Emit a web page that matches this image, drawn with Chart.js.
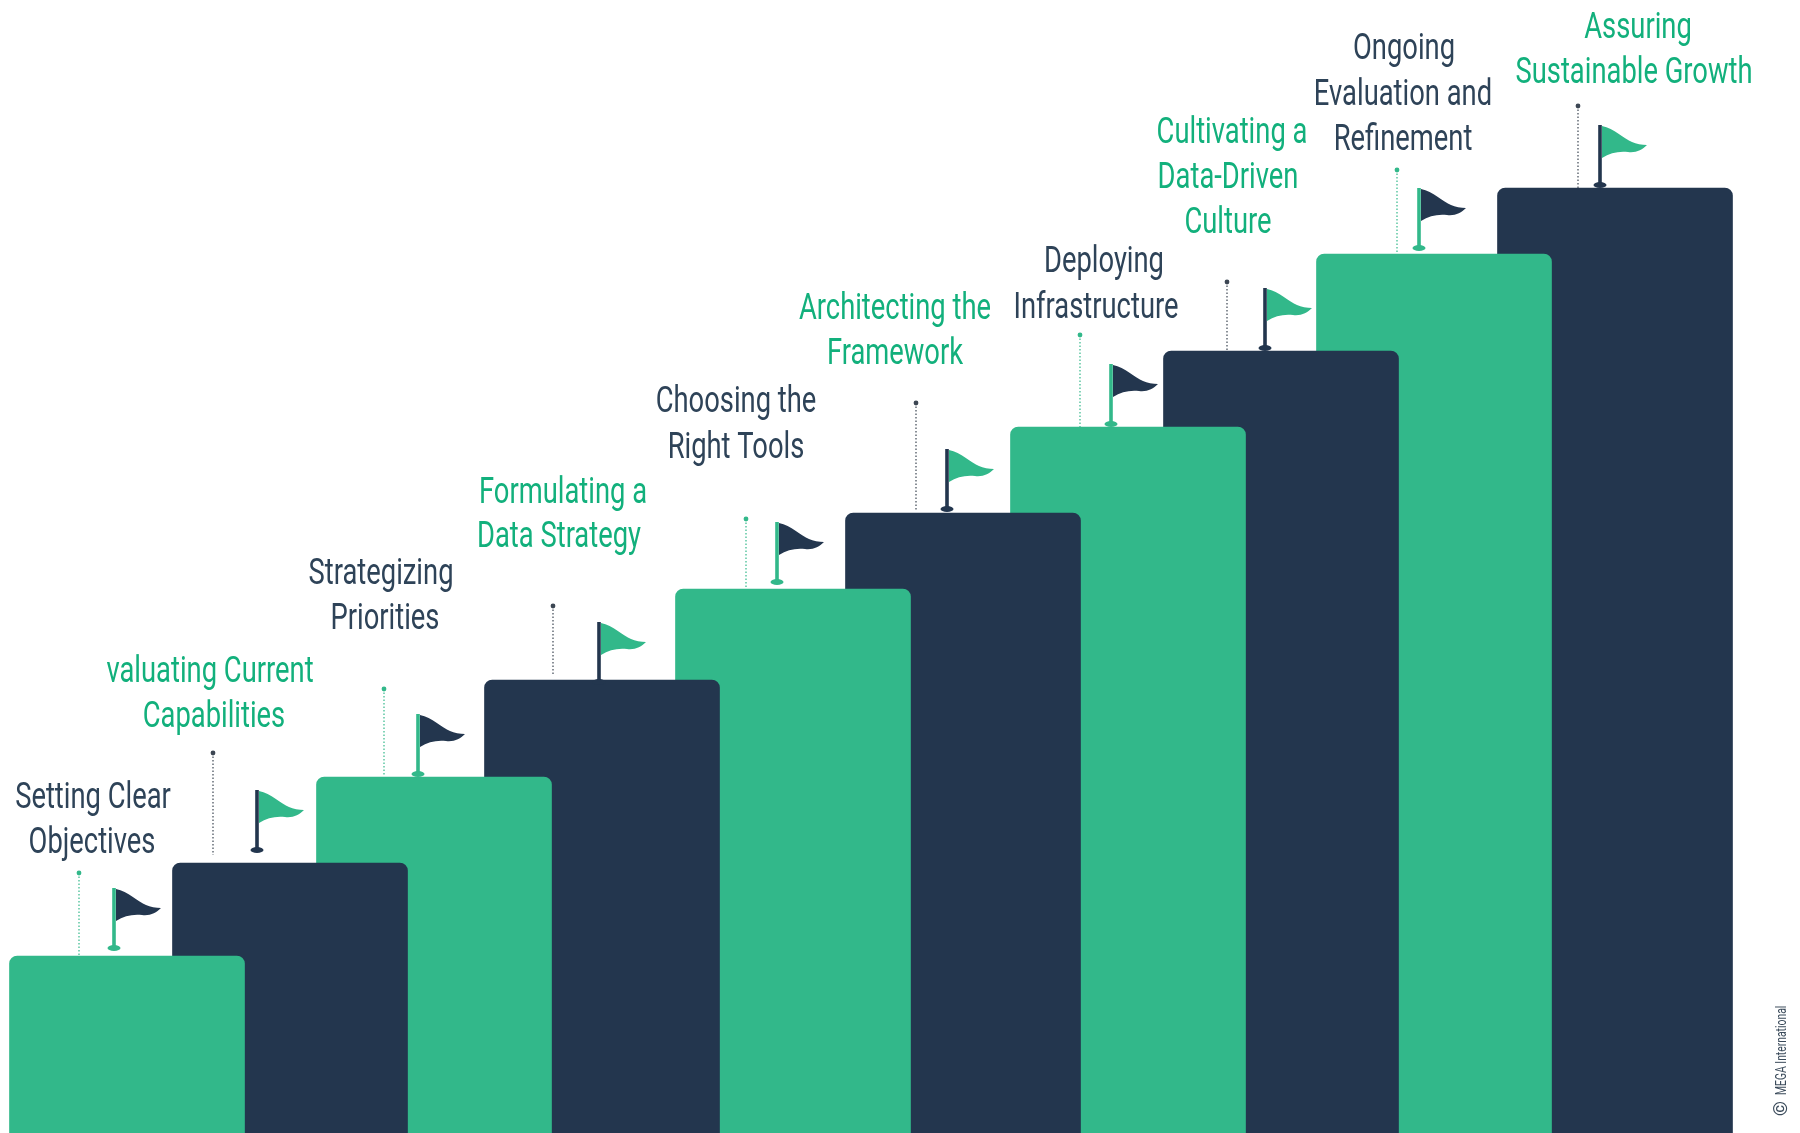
<!DOCTYPE html>
<html>
<head>
<meta charset="utf-8">
<style>html,body{margin:0;padding:0;background:#fff}canvas{display:block}</style>
<script src="https://cdn.jsdelivr.net/npm/chart.js@4"></script>
</head>
<body>
<canvas id="c" width="1800" height="1133" style="width:1800px;height:1133px"></canvas>
<script>
const categories = [
  ["Setting Clear","Objectives"],
  ["valuating Current","Capabilities"],
  ["Strategizing","Priorities"],
  ["Formulating a","Data Strategy"],
  ["Choosing the","Right Tools"],
  ["Architecting the","Framework"],
  ["Deploying","Infrastructure"],
  ["Cultivating a","Data-Driven","Culture"],
  ["Ongoing","Evaluation and","Refinement"],
  ["Assuring","Sustainable Growth"]
];
const stepCentres = [127,290,434,602,793,963,1128,1281,1434,1615];
const stepValues  = [177,270,356,453,544,620,706,782,879,945];
const flagCentres = [114,257,418,599,777,947,1111,1265,1419,1600];
const flagValues  = [185,283,359,451,551,624,709,785,885,948];
const leaderCentres = [79,213,384,553,746,916,1080,1227,1397,1578];
const leaderTops    = [260,380,444,527,614,730,798,851,963,1027];
const leaderBases   = [177,278,358,458,545,622,706,782,880,945];
const labelCentres = [[93,92],[210,214],[381,385],[563,559],[736,736],[895,895],[1104,1096],[1232,1228,1228],[1404,1403,1403],[1638,1634]];
const labelBaselines = [[325,280],[451,406],[549,504],[630,586],[721,675],[814,769],[861,815],[990,945,900],[1074,1028,983],[1095,1050]];
const creditText = "MEGA International";

const GREEN="#32b88a", NAVY="#23364e", TEXT_GREEN="#12b07c", TEXT_NAVY="#2e4358";
const isGreen = i => i%2===0;
const TEXT_SQUEEZE = 0.76;

function flagSprite(i){
  const c=document.createElement('canvas'); c.width=120; c.height=150;
  const g=c.getContext('2d');
  g.translate(60,75);
  const poleCol=isGreen(i)?GREEN:NAVY, flagCol=isGreen(i)?NAVY:GREEN;
  g.fillStyle=poleCol;
  g.fillRect(-1.8,-60,3.6,60);
  g.beginPath(); g.ellipse(0,0,6.5,3,0,0,Math.PI*2); g.fill();
  g.fillStyle=flagCol;
  g.beginPath();
  g.moveTo(2,-59);
  g.bezierCurveTo(14,-57,24,-46,32,-43);
  g.bezierCurveTo(36,-41,42,-40,47,-40);
  g.bezierCurveTo(42,-35,36,-32,28,-33);
  g.bezierCurveTo(18,-34,10,-32,2,-27);
  g.closePath(); g.fill();
  return c;
}

const textPlugin={
  id:'stepLabels',
  afterDraw(chart){
    const {ctx,scales:{x,y}}=chart;
    ctx.save();
    ctx.textAlign='center'; ctx.textBaseline='alphabetic';
    ctx.font='400 36px Roboto';
    categories.forEach((lines,i)=>{
      ctx.fillStyle=isGreen(i)?TEXT_NAVY:TEXT_GREEN;
      lines.forEach((t,j)=>{
        ctx.save();
        ctx.translate(x.getPixelForValue(labelCentres[i][j]),y.getPixelForValue(labelBaselines[i][j]));
        ctx.scale(TEXT_SQUEEZE,1);
        ctx.fillText(t,0,0);
        ctx.restore();
      });
    });
    ctx.translate(1786,1095); ctx.rotate(-Math.PI/2);
    ctx.fillStyle='#3a4a5a'; ctx.textAlign='left';
    ctx.save();
    ctx.scale(0.74,1);
    ctx.font='14px Roboto';
    ctx.fillText(creditText,0,0);
    ctx.restore();
    ctx.font='19px Roboto';
    ctx.fillText("©",-21,1);
    ctx.restore();
  }
};

const barPoints=stepCentres.map((c,i)=>({x:c,y:stepValues[i]})).reverse();
const barColors=stepCentres.map((c,i)=>isGreen(i)?GREEN:NAVY).reverse();

new Chart(document.getElementById('c'),{
  type:'bar',
  data:{datasets:[
    {type:'scatter',order:0,showLine:false,
     data:flagCentres.map((c,i)=>({x:c,y:flagValues[i]})),
     pointStyle:flagCentres.map((c,i)=>flagSprite(i))},
    ...leaderCentres.map((c,i)=>({
      type:'line',order:1,
      data:[{x:c,y:leaderTops[i]},{x:c,y:leaderBases[i]}],
      borderColor:isGreen(i)?GREEN:"#3c4653",borderWidth:1.2,borderDash:[1.5,2],
      pointRadius:[2.4,0],pointBackgroundColor:isGreen(i)?GREEN:"#3c4653",pointBorderWidth:0,
      fill:false
    })),
    {type:'bar',order:2,data:barPoints,backgroundColor:barColors,
     barThickness:235,borderRadius:{topLeft:8,topRight:8,bottomLeft:0,bottomRight:0},borderSkipped:false}
  ]},
  options:{
    responsive:false,animation:false,
    layout:{padding:0,autoPadding:false},
    plugins:{legend:{display:false},tooltip:{enabled:false}},
    scales:{
      x:{type:'linear',min:0,max:1800,display:false,offset:false},
      y:{type:'linear',min:0,max:1133,display:false}
    }
  },
  plugins:[textPlugin]
});
</script>
</body>
</html>
